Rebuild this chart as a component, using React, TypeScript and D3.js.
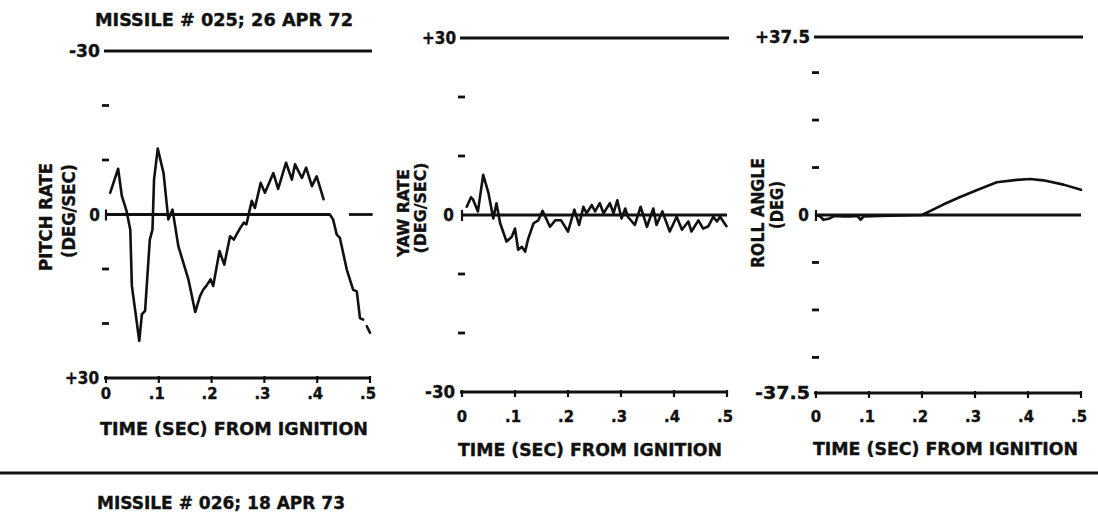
import React from "react";
import * as d3 from "d3";

// ---------- DATA ----------
const timeTicks = [0, 0.1, 0.2, 0.3, 0.4, 0.5];
const timeTickLabels = ["0", ".1", ".2", ".3", ".4", ".5"];

const pitchTime: (number | null)[] = [
  0.008, 0.023, 0.03, 0.039, 0.046, 0.049, 0.055, 0.063, 0.068, 0.074, 0.083, 0.088, 0.091, 0.098,
  0.109, 0.118, 0.126, 0.137, 0.156, 0.169, 0.178, 0.184, 0.19, 0.198, 0.203, 0.215, 0.224, 0.235,
  0.242, 0.254, 0.261, 0.266, 0.276, 0.282, 0.293, 0.301, 0.317, 0.326, 0.341, 0.352, 0.358, 0.371,
  0.379, 0.39, 0.399, 0.412, null, 0.424, 0.43, 0.437, 0.443, 0.456, 0.468, 0.475, 0.481, 0.487,
  null, 0.494, 0.5,
];
const pitchRate: (number | null)[] = [
  -4.0, -8.4, -3.4, -0.6, 2.8, 13.1, 17.4, 23.2, 18.3, 17.7, 4.6, 2.8, -6.4, -12.1,
  -7.6, 0.9, -0.9, 5.8, 11.9, 17.9, 15.0, 13.8, 13.1, 11.9, 13.1, 6.7, 9.2, 4.0,
  4.6, 2.5, 1.5, 1.8, -2.5, -1.2, -5.8, -4.0, -7.6, -4.7, -9.5, -6.4, -9.2, -6.7,
  -8.6, -5.2, -7.0, -2.8, null, 0, 0.9, 3.7, 4.3, 10.1, 13.8, 14.1, 19.0, 19.3,
  null, 20.5, 21.7,
];

const yawTime = [
  0.009, 0.017, 0.021, 0.03, 0.04, 0.05, 0.059, 0.065, 0.072, 0.084, 0.094, 0.1, 0.106, 0.113,
  0.119, 0.125, 0.135, 0.144, 0.152, 0.166, 0.176, 0.187, 0.2, 0.212, 0.221, 0.229, 0.235, 0.245,
  0.251, 0.26, 0.267, 0.279, 0.286, 0.293, 0.301, 0.308, 0.313, 0.326, 0.337, 0.349, 0.361, 0.367,
  0.378, 0.392, 0.405, 0.415, 0.427, 0.433, 0.446, 0.455, 0.465, 0.474, 0.481, 0.487, 0.499,
];
const yawRate = [
  1.4, 3.0, 2.6, 0.6, 6.8, 3.7, -0.6, 2.0, -1.4, -4.5, -3.7, -2.3, -5.9, -5.4,
  -6.2, -4.0, -1.4, -0.9, 0.7, -2.0, -0.9, -0.9, -2.8, 0.9, -1.7, 1.4, 0.3, 1.7,
  0.6, 2.0, 0.3, 2.0, 0.3, 2.5, -0.6, 1.1, -0.3, -1.7, 1.4, -2.0, 1.1, -1.7,
  0.6, -2.8, -0.3, -2.5, -1.1, -2.8, -0.9, -2.3, -1.9, -0.3, -1.1, -0.3, -1.9,
];

const rollTime = [
  0, 0.008, 0.014, 0.024, 0.035, 0.05, 0.065, 0.078, 0.084, 0.09, 0.12, 0.16, 0.2, 0.24,
  0.272, 0.303, 0.341, 0.379, 0.404, 0.429, 0.467, 0.5,
];
const rollAngle = [
  0, -0.3, -1.0, -0.8, -0.2, -0.3, -0.3, -0.2, -1.0, -0.3, -0.2, -0.1, 0, 2.2,
  3.8, 5.2, 6.9, 7.4, 7.6, 7.3, 6.4, 5.3,
];

const pitchTicks = [-20, -10, 10, 20];
const yawTicks = [20, 10, -10, -20];
const rollTicks = [30, 20, 10, -10, -20, -30];

const FONT = "'DejaVu Sans Condensed', 'DejaVu Sans', sans-serif";
const INK = "#111";

type Panel = {
  x0: number; x1: number; yTop: number; yBot: number;
  vTop: number; vBot: number;
  topLabel: string; botLabel: string; zeroLabelRight: number; topRight: number; botRight: number;
  topLen: number; botLen: number;
  ticks: number[];
  time: (number | null)[]; values: (number | null)[];
  title1: string; title2: string; t1x: number; t2x: number; t1len: number; t2len: number; t1cy: number; t2cy: number; tfs: number;
  tickLabelY: number; axisTitleY: number; axisTitleX0: number; axisTitleX1: number;
  zeroSegs: [number, number][];
};

const panels: Panel[] = [
  {
    x0: 106, x1: 370, yTop: 51, yBot: 378, vTop: -30, vBot: 30,
    topLabel: "-30", botLabel: "+30", zeroLabelRight: 100, topRight: 100, botRight: 99, topLen: 31, botLen: 34,
    ticks: pitchTicks, time: pitchTime, values: pitchRate,
    title1: "PITCH RATE", title2: "(DEG/SEC)", t1x: 46, t2x: 69, t1len: 108, t2len: 94, t1cy: 217, t2cy: 211, tfs: 17.5,
    tickLabelY: 399, axisTitleY: 435, axisTitleX0: 100, axisTitleX1: 368,
    zeroSegs: [[0, 0.424], [0.462, 0.505]],
  },
  {
    x0: 462, x1: 727, yTop: 38, yBot: 392, vTop: 30, vBot: -30,
    topLabel: "+30", botLabel: "-30", zeroLabelRight: 454, topRight: 456, botRight: 455, topLen: 34, botLen: 30,
    ticks: yawTicks, time: yawTime, values: yawRate,
    title1: "YAW RATE", title2: "(DEG/SEC)", t1x: 403, t2x: 420, t1len: 88, t2len: 91, t1cy: 213, t2cy: 208, tfs: 15.5,
    tickLabelY: 422, axisTitleY: 456, axisTitleX0: 458, axisTitleX1: 722,
    zeroSegs: [[0, 0.5]],
  },
  {
    x0: 816, x1: 1081, yTop: 37, yBot: 393, vTop: 37.5, vBot: -37.5,
    topLabel: "+37.5", botLabel: "-37.5", zeroLabelRight: 809, topRight: 810, botRight: 810, topLen: 55, botLen: 55,
    ticks: rollTicks, time: rollTime, values: rollAngle,
    title1: "ROLL ANGLE", title2: "(DEG)", t1x: 758, t2x: 777, t1len: 110, t2len: 48, t1cy: 213, t2cy: 205, tfs: 17.5,
    tickLabelY: 422, axisTitleY: 455, axisTitleX0: 813, axisTitleX1: 1078,
    zeroSegs: [[0, 0.5]],
  },
];

const textStyle = { fontFamily: FONT, fontWeight: "bold" as const, fill: INK, stroke: INK, strokeWidth: 0.35 };

function PanelView({ p }: { p: Panel }) {
  const x = d3.scaleLinear().domain([0, 0.5]).range([p.x0, p.x1]);
  const y = d3.scaleLinear().domain([p.vTop, p.vBot]).range([p.yTop, p.yBot]);
  const y0 = y(0);
  const pts = p.time.map((t, i) => [t, p.values[i]] as [number | null, number | null]);
  const line = d3
    .line<[number | null, number | null]>()
    .defined((d) => d[0] !== null && d[1] !== null)
    .x((d) => x(d[0] as number))
    .y((d) => y(d[1] as number));
  const sw = 2.8;
  return (
    <g>
      <line x1={p.x0 - 2} x2={p.x1 + 2} y1={p.yTop} y2={p.yTop} stroke={INK} strokeWidth={sw} />
      <line x1={p.x0 - 2} x2={p.x1 + 1} y1={p.yBot} y2={p.yBot} stroke={INK} strokeWidth={sw} />
      {timeTicks.map((t) => (
        <line key={"xt" + t} x1={x(t)} x2={x(t)} y1={p.yBot - 2} y2={p.yBot + 5} stroke={INK} strokeWidth={2.2} />
      ))}
      {timeTicks.map((t, i) => (
        <text key={"xl" + t} x={x(t) - (i === 0 ? 0 : 2)} y={p.tickLabelY} textAnchor="middle"
          {...textStyle} fontSize={16.5}>{timeTickLabels[i]}</text>
      ))}
      <text x={(p.axisTitleX0 + p.axisTitleX1) / 2} y={p.axisTitleY} textAnchor="middle"
        {...textStyle} fontSize={17}
        textLength={p.axisTitleX1 - p.axisTitleX0} lengthAdjust="spacingAndGlyphs">TIME (SEC) FROM IGNITION</text>
      {p.zeroSegs.map(([a, b], i) => (
        <line key={"z" + i} x1={x(a) - 1} x2={x(b)} y1={y0} y2={y0} stroke={INK} strokeWidth={sw} />
      ))}
      <line x1={p.x0} x2={p.x0} y1={y0 - 5} y2={y0 + 6} stroke={INK} strokeWidth={2.2} />
      {p.ticks.map((v) => (
        <line key={"yt" + v} x1={p.x0 - 4} x2={p.x0 + 3} y1={y(v)} y2={y(v)} stroke={INK} strokeWidth={2.8} />
      ))}
      <text x={p.topRight} y={p.yTop} dy="0.36em" textAnchor="end" {...textStyle} fontSize={17}
        textLength={p.topLen} lengthAdjust="spacingAndGlyphs">{p.topLabel}</text>
      <text x={p.zeroLabelRight} y={y0} dy="0.36em" textAnchor="end" {...textStyle} fontSize={17}>0</text>
      <text x={p.botRight} y={p.yBot} dy="0.36em" textAnchor="end" {...textStyle} fontSize={17}
        textLength={p.botLen} lengthAdjust="spacingAndGlyphs">{p.botLabel}</text>
      <text transform={`translate(${p.t1x},${p.t1cy}) rotate(-90)`} textAnchor="middle" dy="0.36em"
        {...textStyle} fontSize={p.tfs} textLength={p.t1len} lengthAdjust="spacingAndGlyphs">{p.title1}</text>
      <text transform={`translate(${p.t2x},${p.t2cy}) rotate(-90)`} textAnchor="middle" dy="0.36em"
        {...textStyle} fontSize={p.tfs} textLength={p.t2len} lengthAdjust="spacingAndGlyphs">{p.title2}</text>
      <path d={line(pts) || ""} fill="none" stroke={INK} strokeWidth={2.6} strokeLinejoin="round" strokeLinecap="round" />
    </g>
  );
}

export default function App() {
  return (
    <svg width={1098} height={520} style={{ position: "absolute", left: 0, top: 0, background: "#fff" }}>
      <rect width={1098} height={520} fill="#fff" />
      <text x={224} y={26} textAnchor="middle" {...textStyle} fontSize={18}
        textLength={258} lengthAdjust="spacingAndGlyphs">MISSILE # 025; 26 APR 72</text>
      {panels.map((p, i) => (
        <PanelView key={i} p={p} />
      ))}
      <line x1={0} x2={1098} y1={473} y2={473} stroke={INK} strokeWidth={3} />
      <text x={221} y={509} textAnchor="middle" {...textStyle} fontSize={18}
        textLength={248} lengthAdjust="spacingAndGlyphs">MISSILE # 026; 18 APR 73</text>
    </svg>
  );
}
